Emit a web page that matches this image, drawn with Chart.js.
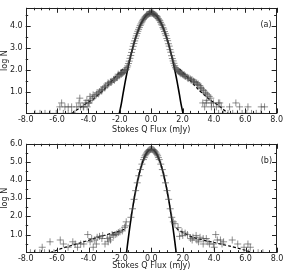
<!DOCTYPE html>
<html lang="en">
<head>
    <meta charset="UTF-8">
    <title>Stokes Q Flux histograms</title>
    <script src="https://cdn.jsdelivr.net/npm/chart.js"></script>
    <style>
        body { margin: 0; background: #fff; }
        .panel { width: 285px; height: 136px; }
        canvas { display: block; }
    </style>
</head>
<body>
    <div class="panel"><canvas id="chartA" width="285" height="136"></canvas></div>
    <div class="panel"><canvas id="chartB" width="285" height="136"></canvas></div>

    <script>
        // ---- axis ticks ----
        const xTicks = [-8, -6, -4, -2, 0, 2, 4, 6, 8];
        const yTicksA = [1, 2, 3, 4];
        const yTicksB = [1, 2, 3, 4, 5, 6];

        // ---- panel (a) ----
        const coreAx = [-1.5,-1.45,-1.4,-1.35,-1.3,-1.25,-1.2,-1.15,-1.1,-1.05,-1.0,-0.95,-0.9,-0.85,-0.8,-0.75,-0.7,-0.65,-0.6,-0.55,-0.5,-0.45,-0.4,-0.35,-0.3,-0.25,-0.2,-0.15,-0.1,-0.05,
                        0,
                        0.05,0.1,0.15,0.2,0.25,0.3,0.35,0.4,0.45,0.5,0.55,0.6,0.65,0.7,0.75,0.8,0.85,0.9,0.95,1.0,1.05,1.1,1.15,1.2,1.25,1.3,1.35,1.4,1.45,1.5];
        const coreAy = [2.18,2.29,2.40,2.53,2.66,2.80,2.94,3.08,3.21,3.33,3.45,3.56,3.67,3.77,3.86,3.95,4.04,4.11,4.19,4.25,4.31,4.37,4.42,4.46,4.50,4.53,4.55,4.57,4.59,4.60,
                        4.61,
                        4.60,4.59,4.56,4.55,4.51,4.49,4.47,4.43,4.36,4.30,4.26,4.18,4.10,4.05,3.94,3.87,3.76,3.66,3.57,3.44,3.34,3.20,3.09,2.93,2.81,2.65,2.52,2.41,2.30,2.19];
        const wingAx = [-1.55,-1.6,-1.65,-1.7,-1.75,-1.8,-1.85,-1.9,-1.95,-2.0,-2.05,-2.1,-2.15,-2.2,-2.3,-2.35,-2.4,-2.5,-2.55,-2.6,-2.7,-2.75,-2.8,-2.9,-2.95,-3.0,-3.1,-3.15,-3.2,-3.3,-3.35,-3.45,-3.5,-3.6,-3.7,-3.75,-3.85,-3.9,-4.0,-4.1,-4.2,-4.3,-4.5,-4.55,-4.6,-4.75,-5.07,-5.29,-5.5,-5.71,-5.82,-4.33,-4.08,-3.95,
                        1.55,1.6,1.65,1.7,1.75,1.8,1.85,1.9,1.95,2.0,2.05,2.1,2.15,2.2,2.3,2.35,2.4,2.5,2.55,2.6,2.7,2.75,2.8,2.9,2.95,3.0,3.1,3.15,3.2,3.3,3.35,3.45,3.5,3.6,3.7,3.8,3.55,3.29,3.51,3.84,3.97,4.29,4.37,3.41,3.84,4.16,4.47,5.0,5.64,6.17,7.02,7.23,5.4,
                        -0.1,0.0,0.1];
        const wingAy = [2.10,2.02,1.98,1.95,1.90,1.87,1.84,1.80,1.86,1.77,1.72,1.80,1.68,1.64,1.60,1.52,1.56,1.48,1.42,1.45,1.36,1.40,1.30,1.26,1.18,1.22,1.11,1.04,1.08,1.00,0.90,0.95,0.85,0.78,0.85,0.70,0.60,0.78,0.48,0.60,0.48,0.30,0.30,0.70,0.48,0.30,0.30,0.30,0.30,0.48,0.30,0.30,0.30,0.48,
                        2.10,2.04,2.00,1.96,1.92,1.90,1.86,1.82,1.85,1.80,1.76,1.78,1.72,1.70,1.66,1.60,1.63,1.58,1.52,1.55,1.48,1.45,1.43,1.40,1.32,1.35,1.28,1.20,1.15,1.08,1.04,0.95,0.90,0.85,0.78,0.70,0.60,0.48,0.48,0.48,0.48,0.48,0.48,0.30,0.30,0.30,0.30,0.30,0.30,0.30,0.30,0.30,0.48,
                        4.66,4.68,4.65];
        const floorAx = [-7.41,-7.09,-6.77,-6.45,-6.05,-5.6,-5.29,-5.07,-4.86, 4.3,4.6,4.9,5.2,5.5,5.8,6.1,6.4,6.7,7.0];
        const gaussAx = [-2.03,-1.9,-1.8,-1.7,-1.6,-1.5,-1.4,-1.3,-1.2,-1.1,-1.0,-0.9,-0.8,-0.7,-0.6,-0.5,-0.4,-0.3,-0.2,-0.1,0,0.1,0.2,0.3,0.4,0.5,0.6,0.7,0.8,0.9,1.0,1.1,1.2,1.3,1.4,1.5,1.6,1.7,1.8,1.9,2.03];
        const gaussAy = [0,0.45,0.87,1.28,1.66,2.01,2.35,2.66,2.94,3.21,3.45,3.67,3.86,4.04,4.19,4.31,4.42,4.50,4.55,4.59,4.60,4.59,4.55,4.50,4.42,4.31,4.19,4.04,3.86,3.67,3.45,3.21,2.94,2.66,2.35,2.01,1.66,1.28,0.87,0.45,0];
        const wideAx = [-5.05,-4.5,-4.0,-3.7,-3.5,-3.0,-2.5,-2.2,-2.0,-1.8, null, 1.8,2.0,2.2,2.5,3.0,3.5,3.7,4.0,4.5,4.9];
        const wideAy = [0,0.28,0.52,0.65,0.78,1.10,1.50,1.75,1.90,2.05, null, 2.05,1.90,1.75,1.50,1.10,0.78,0.65,0.50,0.25,0];

        // ---- panel (b) ----
        const coreBx = [-1.3,-1.2,-1.1,-1.0,-0.9,-0.8,-0.7,-0.6,-0.5,-0.45,-0.4,-0.35,-0.3,-0.25,-0.2,-0.15,-0.1,-0.05,0,0.05,0.1,0.15,0.2,0.25,0.3,0.35,0.4,0.45,0.5,0.6,0.7,0.8,0.9,1.0,1.1,1.2,1.3];
        const coreBy = [1.95,2.42,2.94,3.42,3.85,4.24,4.58,4.88,5.13,5.24,5.34,5.42,5.49,5.56,5.61,5.65,5.68,5.69,5.70,5.69,5.68,5.65,5.61,5.56,5.49,5.42,5.34,5.24,5.13,4.88,4.58,4.24,3.85,3.42,2.94,2.42,1.95];
        const wingBx = [-1.6,-1.65,-1.7,-1.85,-2.0,-2.1,-2.2,-2.3,-2.4,-2.5,-2.65,-2.75,-2.8,-2.95,-3.1,-3.15,-3.3,-3.45,-3.6,-3.7,-3.8,-3.9,-4.05,-4.3,-4.5,-4.85,-5.0,-5.3,-5.6,-5.8,-6.45,-6.95,-4.7,-3.5,-2.6,
                        1.4,1.5,1.7,1.8,1.95,2.0,2.15,2.3,2.5,2.6,2.65,2.85,2.9,3.0,3.1,3.3,3.3,3.5,3.6,3.7,3.95,4.0,4.1,4.2,4.4,4.5,4.6,5.15,5.5,5.9,6.15,6.3];
        const wingBy = [1.70,1.48,1.40,1.20,1.15,1.11,1.04,1.00,0.95,1.00,0.85,0.60,0.78,0.48,0.95,0.78,0.90,0.85,0.70,0.30,0.78,0.60,1.00,0.48,0.48,0.48,0.60,0.30,0.48,0.70,0.60,0.30,0.30,0.48,0.70,
                        1.70,1.60,1.38,0.90,1.15,0.95,1.08,1.00,0.78,0.70,0.85,0.95,0.70,0.60,0.85,0.78,0.48,0.78,0.60,0.48,0.48,0.30,1.00,0.70,0.70,0.48,0.60,0.70,0.48,0.30,0.48,0.30];
        const floorBx = [-7.7,-7.4,-7.1,-6.8,-6.5,-6.2, 5.9,6.2,6.5,6.8,7.1];
        const gaussBx = [-1.58,-1.5,-1.4,-1.3,-1.2,-1.1,-1.0,-0.9,-0.8,-0.7,-0.6,-0.5,-0.4,-0.3,-0.2,-0.1,0,0.1,0.2,0.3,0.4,0.5,0.6,0.7,0.8,0.9,1.0,1.1,1.2,1.3,1.4,1.5,1.58];
        const gaussBy = [0,0.57,1.23,1.85,2.42,2.94,3.42,3.85,4.24,4.58,4.88,5.13,5.34,5.49,5.61,5.68,5.70,5.68,5.61,5.49,5.34,5.13,4.88,4.58,4.24,3.85,3.42,2.94,2.42,1.85,1.23,0.57,0];
        const wideBx = [-6.45,-6.0,-5.5,-5.0,-4.5,-4.0,-3.5,-3.0,-2.5,-2.0,-1.7,-1.6, null, 1.6,1.7,2.0,2.5,3.0,3.5,4.0,4.5,5.0,5.5,6.0,6.4];
        const wideBy = [0,0.15,0.29,0.42,0.55,0.68,0.82,0.95,1.08,1.20,1.30,1.35, null, 1.35,1.27,1.12,0.90,0.76,0.66,0.56,0.46,0.36,0.25,0.13,0];

        const pairs = (xs, ys) => xs.map((x, i) => ({ x: x, y: ys[i] }));
        const floor = xs => xs.map(x => ({ x: x, y: 0 }));

        const FONT = '"DejaVu Sans", sans-serif';
        const INK = '#222';

        // Box frame, inward ticks and the panel tag
        const frameTicks = {
            id: 'frameTicks',
            afterDatasetsDraw(chart, args, opts) {
                const { ctx, chartArea: a, scales: { x, y } } = chart;
                ctx.save();
                ctx.strokeStyle = INK;
                ctx.lineWidth = 1;
                ctx.strokeRect(Math.round(a.left) + 0.5, Math.round(a.top) + 0.5,
                    Math.round(a.width) - 1, Math.round(a.height) - 1);
                ctx.beginPath();
                for (let v = -8; v <= 8.001; v += 0.5) {
                    const px = Math.round(x.getPixelForValue(v)) + 0.5;
                    const len = Math.abs(v % 2) < 1e-6 ? 5 : 2.5;
                    ctx.moveTo(px, a.bottom); ctx.lineTo(px, a.bottom - len);
                    ctx.moveTo(px, a.top); ctx.lineTo(px, a.top + len);
                }
                for (let v = 0.5; v < y.max; v += 0.5) {
                    const py = Math.round(y.getPixelForValue(v)) + 0.5;
                    const len = Math.abs(v % 1) < 1e-6 ? 5 : 2.5;
                    ctx.moveTo(a.left, py); ctx.lineTo(a.left + len, py);
                    ctx.moveTo(a.right, py); ctx.lineTo(a.right - len, py);
                }
                ctx.stroke();
                ctx.fillStyle = INK;
                ctx.font = '8px ' + FONT;
                ctx.textAlign = 'right';
                ctx.textBaseline = 'middle';
                ctx.fillText(opts.tag, a.right - 5, y.getPixelForValue(opts.tagAt) - 1);
                ctx.restore();
            }
        };

        function makeChart(id, cfg) {
            const ctx = document.getElementById(id).getContext('2d');
            return new Chart(ctx, {
                type: 'scatter',
                data: {
                    datasets: [
                        {
                            data: cfg.points,
                            pointStyle: 'cross',
                            radius: 3.5,
                            borderWidth: 1,
                            borderColor: 'rgba(70,70,70,0.6)',
                            showLine: false,
                            clip: 0
                        },
                        {
                            data: cfg.gauss,
                            showLine: true,
                            borderColor: '#000',
                            borderWidth: 1.6,
                            pointRadius: 0,
                            tension: 0.3,
                            clip: 0
                        },
                        {
                            data: cfg.wide,
                            showLine: true,
                            borderColor: '#000',
                            borderWidth: 1.2,
                            borderDash: [3, 2],
                            pointRadius: 0,
                            tension: 0.3,
                            spanGaps: false,
                            clip: 0
                        }
                    ]
                },
                options: {
                    responsive: false,
                    animation: false,
                    layout: { padding: { left: 0, right: 8, top: cfg.top, bottom: 0 } },
                    plugins: {
                        legend: { display: false },
                        tooltip: { enabled: false },
                        frameTicks: { tag: cfg.tag, tagAt: cfg.tagAt }
                    },
                    scales: {
                        x: {
                            type: 'linear',
                            min: -8,
                            max: 8,
                            afterFit: s => { s.height = cfg.xh; },
                            afterBuildTicks: s => { s.ticks = xTicks.map(v => ({ value: v })); },
                            grid: { display: false, drawTicks: false },
                            border: { display: false },
                            ticks: {
                                padding: cfg.xpad,
                                color: INK,
                                maxRotation: 0,
                                font: { family: FONT, size: 8 },
                                callback: v => v.toFixed(1)
                            },
                            title: {
                                display: true,
                                text: 'Stokes Q Flux (mJy)',
                                color: INK,
                                padding: { top: 0, bottom: cfg.tpad },
                                font: { family: FONT, size: 8 }
                            }
                        },
                        y: {
                            type: 'linear',
                            min: 0,
                            max: cfg.ymax,
                            afterFit: s => { s.width = 25.7; },
                            afterBuildTicks: s => { s.ticks = cfg.yTicks.map(v => ({ value: v })); },
                            grid: { display: false, drawTicks: false },
                            border: { display: false },
                            ticks: {
                                padding: 3,
                                color: INK,
                                font: { family: FONT, size: 8 },
                                callback: v => v.toFixed(1)
                            },
                            title: {
                                display: true,
                                text: 'log N',
                                color: INK,
                                padding: { top: 0.5, bottom: 0 },
                                font: { family: FONT, size: 8 }
                            }
                        }
                    }
                },
                plugins: [frameTicks]
            });
        }

        makeChart('chartA', {
            points: [...pairs(coreAx, coreAy), ...pairs(wingAx, wingAy), ...floor(floorAx)],
            gauss: pairs(gaussAx, gaussAy),
            wide: pairs(wideAx, wideAy),
            yTicks: yTicksA,
            ymax: 4.85,
            top: 3,
            xh: 22.6,
            xpad: 2,
            tpad: 1.5,
            tag: '(a)',
            tagAt: 4
        });

        makeChart('chartB', {
            points: [...pairs(coreBx, coreBy), ...pairs(wingBx, wingBy), ...floor(floorBx)],
            gauss: pairs(gaussBx, gaussBy),
            wide: pairs(wideBx, wideBy),
            yTicks: yTicksB,
            ymax: 6,
            top: 5,
            xh: 19.3,
            xpad: 1,
            tpad: 1,
            tag: '(b)',
            tagAt: 5
        });
    </script>
</body>
</html>
